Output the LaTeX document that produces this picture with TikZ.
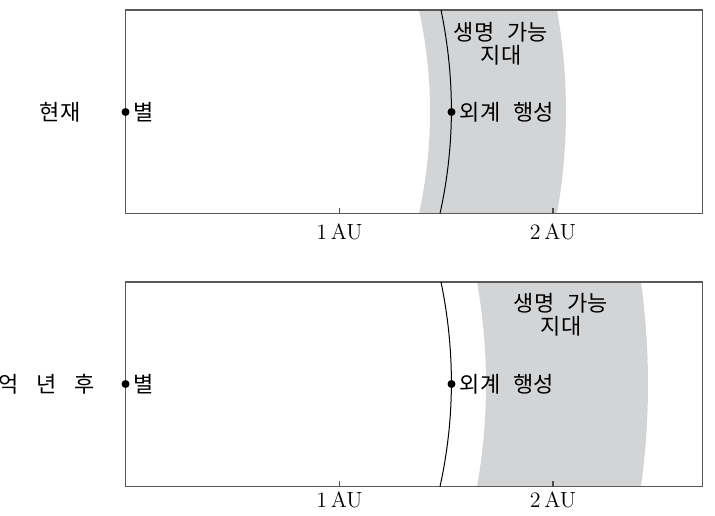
\documentclass[tikz,border=0pt]{standalone}
\usepackage{fontspec}
\newfontfamily\kor{Noto Sans CJK KR}
\usetikzlibrary{positioning}
\definecolor{zonegray}{RGB}{211,212,214}
\def\gap{\hspace{0.6em}}
\tikzset{
  frame/.style={draw=black!65, line width=0.75pt},
  orbit/.style={draw=black, line width=0.5pt},
  tick/.style={draw=black!70, line width=0.6pt},
  kortext/.style={font=\kor\fontsize{11}{11.5}\selectfont},
}

\begin{document}
\begin{tikzpicture}[x=0.5pt, y=-0.5pt, font=\fontsize{11}{13}\selectfont]
			%%%%% START %%%%%
			\useasboundingbox (0,0) rectangle (715,515);
			
			% now
			\fill[zonegray] (419,10) .. controls (433.7,78) and (433.7,145.5) .. (419,213.5) -- (557,213.5) .. controls (569,145.5) and (569,78) .. (557,10) -- cycle;
			\draw[frame] (125.5,10) rectangle (702.5,213.5);
			\draw[orbit] (441,10) .. controls (455,78) and (455,145.5) .. (440,213.5);
			\coordinate (star1) at (125.5,112);
			\coordinate (planet1) at (451.5,112);
			\fill (star1) circle (2pt);
			\fill (planet1) circle (2pt);
			\draw[tick] (339.5,213.5) -- ++(0,-6);
			\draw[tick] (553,213.5) -- ++(0,-6);
			
			\node[kortext] (now) at (60,112) {현재};
			\node[kortext, anchor=west, inner sep=1pt] (starlabel1) at (star1) {\hspace{3pt}별};
			\node[kortext, anchor=west, inner sep=1pt] (planetlabel1) at (planet1) {\hspace{3pt}외계\gap 행성};
			\node[kortext, align=center] (zone1) at (501,44) {생명\gap 가능\\지대};
			\node (auone1) at (339.5,232) {1\,AU};
			\node (autwo1) at (553,232) {2\,AU};
			
			% later
			\fill[zonegray] (477,282) .. controls (489,350) and (489,418.5) .. (477,486.5) -- (641,486.5) .. controls (650.3,418.5) and (650.3,350) .. (641,282) -- cycle;
			\draw[frame] (125.5,282) rectangle (702.5,486.5);
			\draw[orbit] (441,282) .. controls (455,350) and (455,418.5) .. (440,486.5);
			\coordinate (star2) at (125.5,384);
			\coordinate (planet2) at (451.5,384);
			\fill (star2) circle (2pt);
			\fill (planet2) circle (2pt);
			\draw[tick] (339.5,486.5) -- ++(0,-6);
			\draw[tick] (553,486.5) -- ++(0,-6);
			
			\node[kortext, anchor=east, inner sep=0pt] (later) at (95,384) {억\hspace{0.8em}년\hspace{0.8em}후};
			\node[kortext, anchor=west, inner sep=1pt] (starlabel2) at (star2) {\hspace{3pt}별};
			\node[kortext, anchor=west, inner sep=1pt] (planetlabel2) at (planet2) {\hspace{3pt}외계\gap 행성};
			\node[kortext, align=center] (zone2) at (561,315) {생명\gap 가능\\지대};
			\node (auone2) at (339.5,500) {1\,AU};
			\node (autwo2) at (553,500) {2\,AU};
			%%%%% END %%%%%
\end{tikzpicture}
\end{document}
